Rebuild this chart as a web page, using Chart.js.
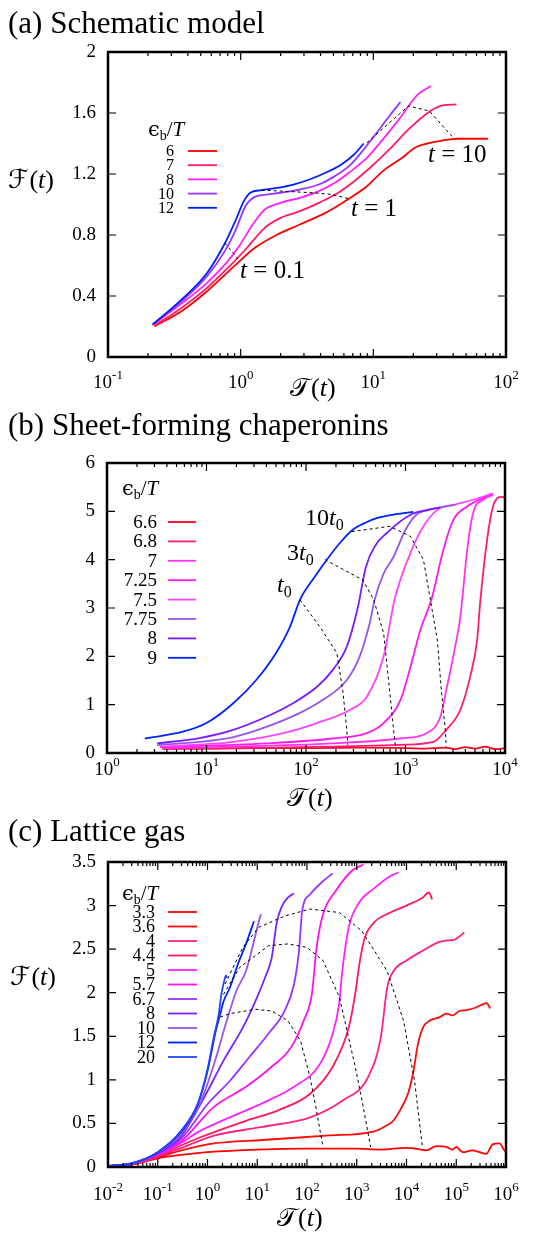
<!DOCTYPE html>
<html>
<head>
<meta charset="utf-8">
<script src="https://cdn.jsdelivr.net/npm/chart.js@4.4.0/dist/chart.umd.min.js"></script>
<style>
body { margin: 0; background: #fff; }
#wrap { position: relative; width: 548px; height: 1233px; }
canvas { position: absolute; left: 0; }
</style>
</head>
<body>
<div id="wrap">
<canvas id="chartA" width="548" height="405" style="top:0px"></canvas>
<canvas id="chartB" width="548" height="410" style="top:405px"></canvas>
<canvas id="chartC" width="548" height="418" style="top:815px"></canvas>
</div>
<script>
// ---- (a) Schematic model ----
const schemLabels = ['6', '7', '8', '10', '12'];
const schemColors = ['#ff0000', '#ff1a66', '#ff22ff', '#9933ff', '#0022ff'];
const schemYTicks = [0, 0.4, 0.8, 1.2, 1.6, 2];
const schemYTickLabels = ['0', '0.4', '0.8', '1.2', '1.6', '2'];
const schem6 = [[0.224,0.201],[0.358,0.30],[0.558,0.431],[0.92,0.606],[1.28,0.716],[1.89,0.803],[2.79,0.869],[4.35,0.945],[6.41,1.033],[8.95,1.12],[11.8,1.219],[16.5,1.306],[20.6,1.372],[27.2,1.405],[37.8,1.427],[42.3,1.431],[73,1.431]];
const schem7 = [[0.224,0.206],[0.358,0.322],[0.558,0.453],[0.824,0.595],[1.087,0.705],[1.52,0.847],[2.0,0.912],[2.79,0.956],[3.89,1.011],[5.43,1.077],[7.17,1.153],[9.46,1.241],[13.2,1.361],[18.4,1.492],[25.7,1.60],[32.1,1.646],[42.3,1.656]];
const schem8 = [[0.217,0.212],[0.358,0.35],[0.558,0.486],[0.78,0.617],[0.973,0.726],[1.21,0.858],[1.52,0.967],[2.0,1.011],[2.79,1.044],[3.89,1.088],[5.14,1.142],[6.78,1.219],[8.95,1.306],[11.8,1.427],[15.6,1.558],[21.7,1.722],[27.2,1.777]];
const schem10 = [[0.217,0.212],[0.358,0.365],[0.558,0.53],[0.759,0.694],[0.92,0.836],[1.086,0.989],[1.28,1.05],[1.6,1.066],[2.0,1.077],[2.79,1.098],[3.89,1.131],[5.14,1.186],[6.78,1.263],[8.47,1.361],[10.6,1.47],[13.2,1.58],[16.0,1.672]];
const schem12 = [[0.217,0.212],[0.358,0.376],[0.558,0.551],[0.759,0.744],[0.92,0.90],[1.057,1.022],[1.18,1.077],[1.435,1.094],[1.89,1.109],[2.5,1.131],[3.3,1.164],[4.36,1.208],[5.74,1.263],[7.16,1.328],[8.47,1.40]];
const schemT01 = [[0.76,0.748],[0.97,0.635]];
const schemT1 = [[1.44,1.094],[2.0,1.088],[3.49,1.077],[4.86,1.066],[6.6,1.037]];
const schemT10 = [[8.95,1.405],[18.4,1.646],[26.4,1.613],[40,1.438]];

// ---- (b) Sheet-forming chaperonins ----
const chapLabels = ['6.6', '6.8', '7', '7.25', '7.5', '7.75', '8', '9'];
const chapColors = ['#ff0022', '#ff1a75', '#ff33ee', '#ff1aee', '#ff44ff', '#9955ee', '#7a1aff', '#0022ff'];
const chapYTicks = [0, 1, 2, 3, 4, 5, 6];
const chapYTickLabels = ['0', '1', '2', '3', '4', '5', '6'];
const chap66 = [[4,0.09],[10,0.09],[31.6,0.1],[100,0.1],[316,0.11],[1000,0.1],[1585,0.09],[2512,0.11],[3162,0.08],[3981,0.12],[5012,0.09],[6310,0.13],[7943,0.08],[10000,0.1]];
const chap68 = [[3.6,0.08],[186,0.13],[891,0.17],[1905,0.23],[2570,0.48],[3548,0.89],[4467,1.58],[5248,2.34],[5623,3.1],[6607,4.41],[7586,5.1],[9333,5.3],[10000,5.28]];
const chap7 = [[3.6,0.1],[186,0.2],[891,0.3],[1622,0.41],[2239,0.75],[2570,1.3],[3020,2.0],[3548,2.8],[3715,3.17],[4169,4.2],[4786,4.97],[6026,5.24],[7586,5.34]];
const chap725 = [[3.4,0.12],[40,0.2],[186,0.3],[407,0.41],[603,0.62],[891,1.1],[1122,1.78],[1413,2.55],[1820,3.17],[2399,4.2],[3020,4.82],[4169,5.1],[7586,5.37]];
const chap75 = [[3.4,0.13],[18.6,0.23],[59,0.41],[129,0.62],[275,0.89],[407,1.16],[603,2.0],[776,3.17],[1122,4.14],[1514,4.69],[2089,5.03],[3162,5.14],[5012,5.25],[7586,5.37]];
const chap775 = [[3.2,0.165],[8.5,0.23],[18.6,0.33],[40,0.54],[87,0.83],[148,1.1],[257,1.51],[347,2.0],[437,2.69],[490,3.17],[600,3.7],[759,4.06],[1000,4.62],[1288,4.93],[1738,5.03],[3162,5.14]];
const chap8 = [[3.2,0.2],[8.5,0.31],[18.6,0.48],[40,0.75],[74,1.03],[129,1.37],[186,1.72],[257,2.2],[331,3.0],[400,3.85],[500,4.3],[646,4.55],[1122,4.93],[1585,5.02],[2240,5.08]];
const chap9 = [[2.4,0.30],[5.8,0.44],[10,0.62],[18.6,1.03],[31.6,1.51],[50,2.07],[69,2.61],[87,3.17],[120,3.62],[162,4.0],[220,4.35],[295,4.62],[400,4.77],[513,4.86],[800,4.94],[1200,4.99]];
const chapT0 = [[87,3.17],[138,2.61],[204,2.07],[234,1.3],[257,0.48],[263,0.17]];
const chap3T0 = [[155,4.0],[372,3.58],[479,3.17],[603,2.48],[692,1.3],[759,0.48],[794,0.13]];
const chap10T0 = [[288,4.58],[692,4.69],[1122,4.48],[1514,4.0],[1778,3.17],[2089,2.34],[2291,1.3],[2512,0.48],[2570,0.13]];

// ---- (c) Lattice gas ----
const lattLabels = ['3.3', '3.6', '4', '4.4', '5', '5.7', '6.7', '8', '10', '12', '20'];
const lattColors = ['#ff0000', '#ff0a0a', '#ff2288', '#ff1a5a', '#ff22ff', '#ff11ee', '#9933ff', '#7a22ff', '#9955ee', '#0022ff', '#2244ff'];
const lattYTicks = [0, 0.5, 1, 1.5, 2, 2.5, 3, 3.5];
const lattYTickLabels = ['0', '0.5', '1', '1.5', '2', '2.5', '3', '3.5'];
const latt33 = [[0.01,0.01],[0.0316,0.03],[0.1,0.1],[0.3,0.14],[1,0.17],[10,0.2],[100,0.21],[1000,0.21],[3000,0.2],[10000,0.22],[20000,0.2],[25000,0.19],[40000,0.24],[63000,0.23],[85000,0.2],[100000,0.23],[135000,0.17],[214000,0.19],[400000,0.15],[540000,0.26],[740000,0.27],[930000,0.19],[1000000,0.18]];
const latt36 = [[0.01,0.01],[0.0316,0.032],[0.1,0.11],[0.3,0.19],[1.35,0.27],[12.5,0.31],[244,0.36],[2265,0.41],[3530,0.46],[5400,0.53],[7400,0.65],[10700,0.84],[13500,1.07],[17000,1.41],[21400,1.6],[29500,1.68],[46800,1.72],[63000,1.76],[85000,1.74],[115000,1.79],[158000,1.8],[250000,1.83],[346000,1.87],[410000,1.88],[480000,1.82]];
const latt4 = [[0.01,0.01],[0.0316,0.034],[0.1,0.12],[0.3,0.22],[1.35,0.36],[12.5,0.46],[116,0.57],[513,0.76],[1683,1.03],[3050,1.49],[4100,2.06],[5520,2.25],[10000,2.37],[21000,2.48],[44200,2.58],[69000,2.6],[92900,2.61],[145000,2.69]];
const latt44 = [[0.01,0.01],[0.0316,0.036],[0.1,0.13],[0.3,0.25],[0.64,0.33],[5.94,0.53],[26.2,0.65],[116,0.84],[328,1.15],[690,1.6],[929,1.98],[1161,2.37],[1450,2.63],[2265,2.81],[4755,2.92],[10000,3.0],[21000,3.09],[28300,3.15],[32800,3.07]];
const latt5 = [[0.01,0.01],[0.0316,0.038],[0.1,0.14],[0.3,0.28],[0.64,0.4],[2.83,0.57],[12.5,0.73],[55,0.92],[181,1.18],[328,1.53],[442,1.87],[513,2.25],[690,2.75],[1076,3.02],[2265,3.2],[4755,3.34],[6900,3.38]];
const latt57 = [[0.01,0.01],[0.0316,0.039],[0.1,0.145],[0.3,0.3],[1.35,0.69],[5.94,0.92],[19.5,1.15],[47.5,1.37],[86,1.68],[125,1.98],[156,2.52],[210,2.9],[380,3.17],[800,3.4],[1346,3.47]];
const latt67 = [[0.01,0.01],[0.0316,0.04],[0.1,0.15],[0.3,0.33],[1.0,0.72],[2.83,0.99],[6.9,1.26],[16.8,1.53],[35.3,1.79],[55,2.1],[69,2.48],[80,2.94],[116,3.13],[210,3.28],[328,3.37]];
const latt8 = [[0.01,0.01],[0.0316,0.042],[0.1,0.16],[0.3,0.36],[0.86,0.8],[2.1,1.22],[5.13,1.6],[9.29,1.91],[14.5,2.18],[19.5,2.4],[24.4,2.79],[30.5,2.98],[41,3.09],[55,3.14]];
const latt10 = [[0.01,0.01],[0.0316,0.044],[0.1,0.165],[0.3,0.39],[0.743,0.76],[1.35,1.18],[2.44,1.68],[3.8,2.02],[5.94,2.25],[8.0,2.52],[10.8,2.82],[11.9,2.9]];
const latt12 = [[0.01,0.01],[0.0316,0.045],[0.1,0.17],[0.3,0.41],[0.64,0.72],[1.0,1.1],[1.45,1.55],[1.81,1.76],[2.1,1.9],[2.83,2.06],[4.1,2.33],[5.94,2.56],[8.6,2.82]];
const latt20 = [[0.01,0.01],[0.0316,0.046],[0.1,0.17],[0.3,0.42],[0.64,0.73],[1.0,1.12],[1.35,1.5],[1.68,1.75],[1.9,1.98],[2.2,2.15],[2.35,2.2],[2.45,2.17]];
const lattIso1 = [[1.81,1.72],[2.82,1.76],[9.3,1.81],[19.5,1.79],[41,1.68],[74,1.45],[115,1.03],[155,0.65],[209,0.23]];
const lattIso2 = [[2.1,1.98],[4.42,2.29],[17,2.54],[41,2.56],[100,2.52],[209,2.37],[447,1.95],[933,1.15],[1350,0.69],[1900,0.23]];
const lattIso3 = [[2.26,2.1],[5.13,2.52],[10.7,2.75],[35.5,2.88],[115,2.96],[447,2.92],[1260,2.71],[4070,2.25],[8710,1.68],[14500,0.99],[20900,0.23]];

const SERIF = '"Liberation Serif", "DejaVu Serif", serif';
const MATH = '"DejaVu Serif", "DejaVu Sans", serif';

function series(pts, color, dashed) {
    return {
        data: pts.map(p => ({x: p[0], y: p[1]})),
        borderColor: color,
        borderWidth: dashed ? 1 : 1.8,
        borderDash: dashed ? [3, 3] : [],
        pointRadius: 0,
        fill: false,
        cubicInterpolationMode: dashed ? 'default' : 'monotone',
        tension: 0
    };
}

// draw a row of text pieces (roman / italic / sub / sup) starting at x
function drawRuns(ctx, runs, x, y) {
    let cx = x;
    runs.forEach(r => {
        ctx.font = (r.italic ? 'italic ' : '') + r.size + 'px ' + (r.font || SERIF);
        ctx.fillText(r.t, cx, y + (r.dy || 0));
        cx += ctx.measureText(r.t).width + (r.gap || 0);
    });
    return cx;
}

function gnuFrame(cfg) {
    return {
        id: 'gnuframe',
        afterDraw(chart) {
            const ctx = chart.ctx, a = chart.chartArea;
            const xs = chart.scales.x, ys = chart.scales.y;
            ctx.save();
            ctx.fillStyle = '#000';
            ctx.strokeStyle = '#000';

            // inward tick marks on all four sides
            ctx.lineWidth = 1.2;
            ctx.beginPath();
            cfg.yTicks.forEach(v => {
                const py = ys.getPixelForValue(v);
                ctx.moveTo(a.left, py); ctx.lineTo(a.left + 8, py);
                ctx.moveTo(a.right, py); ctx.lineTo(a.right - 8, py);
            });
            for (let e = cfg.xExp[0]; e <= cfg.xExp[1]; e++) {
                const px = xs.getPixelForValue(Math.pow(10, e));
                ctx.moveTo(px, a.bottom); ctx.lineTo(px, a.bottom - 8);
                ctx.moveTo(px, a.top); ctx.lineTo(px, a.top + 8);
                if (e < cfg.xExp[1]) {
                    for (let m = 2; m < 10; m++) {
                        const q = xs.getPixelForValue(m * Math.pow(10, e));
                        ctx.moveTo(q, a.bottom); ctx.lineTo(q, a.bottom - 4);
                        ctx.moveTo(q, a.top); ctx.lineTo(q, a.top + 4);
                    }
                }
            }
            ctx.stroke();
            ctx.lineWidth = 2.5;
            ctx.strokeRect(a.left, a.top, a.right - a.left, a.bottom - a.top);

            // y tick labels
            ctx.font = '19px ' + SERIF;
            ctx.textAlign = 'right';
            ctx.textBaseline = 'middle';
            cfg.yTicks.forEach((v, i) => ctx.fillText(cfg.yTickLabels[i], a.left - 12, ys.getPixelForValue(v)));

            // x tick labels 10^n
            ctx.textAlign = 'left';
            ctx.textBaseline = 'alphabetic';
            for (let e = cfg.xExp[0]; e <= cfg.xExp[1]; e++) {
                const px = xs.getPixelForValue(Math.pow(10, e));
                ctx.font = '19px ' + SERIF;
                const w1 = ctx.measureText('10').width;
                ctx.font = '13px ' + SERIF;
                const w2 = ctx.measureText(String(e)).width;
                const x0 = px - (w1 + w2) / 2;
                const by = a.bottom + cfg.xLabelOffset;
                ctx.font = '19px ' + SERIF;
                ctx.fillText('10', x0, by);
                ctx.font = '13px ' + SERIF;
                ctx.fillText(String(e), x0 + w1, by - 9);
            }

            // panel title
            drawRuns(ctx, [{t: cfg.title, size: 31}], 8, cfg.titleY);

            // axis titles
            drawRuns(ctx, [{t: '\u{1D4AF}', size: 26, font: MATH, gap: 1}, {t: '(', size: 26}, {t: 't', size: 26, italic: true}, {t: ')', size: 26}], cfg.xTitle[0], cfg.xTitle[1]);
            if (cfg.yTitle) {
                drawRuns(ctx, [{t: '\u2131', size: 26, font: MATH, gap: 1}, {t: '(', size: 26}, {t: 't', size: 26, italic: true}, {t: ')', size: 26}], cfg.yTitle[0], cfg.yTitle[1]);
            }

            // key
            const k = cfg.key;
            drawRuns(ctx, [{t: '\u03F5', size: 21, font: MATH}, {t: 'b', size: 14, dy: 4}, {t: '/', size: 21}, {t: 'T', size: 21, italic: true}], k.head[0], k.head[1]);
            ctx.font = k.size + 'px ' + SERIF;
            ctx.textAlign = 'right';
            ctx.textBaseline = 'middle';
            k.labels.forEach((lab, i) => {
                const yy = k.y0 + i * k.dy;
                ctx.fillStyle = '#000';
                ctx.fillText(lab, k.numRight, yy + 1);
                ctx.strokeStyle = k.colors[i];
                ctx.lineWidth = 1.8;
                ctx.beginPath();
                ctx.moveTo(k.line[0], yy); ctx.lineTo(k.line[1], yy);
                ctx.stroke();
            });
            ctx.textAlign = 'left';
            ctx.textBaseline = 'alphabetic';
            ctx.fillStyle = '#000';

            // curve annotations, anchored in data space
            cfg.notes.forEach(n => {
                drawRuns(ctx, n.runs, xs.getPixelForValue(n.x), ys.getPixelForValue(n.y));
            });
            ctx.restore();
        }
    };
}

function makeChart(id, xr, yr, pad, datasets, cfg) {
    return new Chart(document.getElementById(id), {
        type: 'line',
        data: { datasets: datasets },
        options: {
            responsive: false,
            animation: false,
            events: [],
            layout: { padding: pad },
            plugins: { legend: { display: false }, tooltip: { enabled: false } },
            scales: {
                x: { type: 'logarithmic', min: xr[0], max: xr[1], display: false },
                y: { type: 'linear', min: yr[0], max: yr[1], display: false }
            }
        },
        plugins: [gnuFrame(cfg)]
    });
}

const tRun = (size) => ({t: 't', size: size, italic: true});

// (a)
const schemCurves = [schem6, schem7, schem8, schem10, schem12];
makeChart('chartA', [0.1, 100], [0, 2], {left: 108, right: 42, top: 52, bottom: 48},
    [series(schemT01, '#000', true), series(schemT1, '#000', true), series(schemT10, '#000', true)]
        .concat(schemCurves.map((c, i) => series(c, schemColors[i])).reverse()),
    {
        title: '(a) Schematic model', titleY: 33,
        yTicks: schemYTicks, yTickLabels: schemYTickLabels, xExp: [-1, 2], xLabelOffset: 31,
        xTitle: [290, 396], yTitle: [8, 188],
        key: {labels: schemLabels, colors: schemColors, head: [148, 136], y0: 151, dy: 14.2, numRight: 174, line: [188, 217], size: 16},
        notes: [
            {x: 0.99, y: 0.518, runs: [tRun(25), {t: ' = 0.1', size: 25}]},
            {x: 6.78, y: 0.925, runs: [tRun(25), {t: ' = 1', size: 25}]},
            {x: 25.8, y: 1.28, runs: [tRun(25), {t: ' = 10', size: 25}]}
        ]
    });

// (b)
const chapCurves = [chap66, chap68, chap7, chap725, chap75, chap775, chap8, chap9];
makeChart('chartB', [1, 10000], [0, 6], {left: 107, right: 43, top: 58, bottom: 62},
    [series(chapT0, '#000', true), series(chap3T0, '#000', true), series(chap10T0, '#000', true)]
        .concat(chapCurves.map((c, i) => series(c, chapColors[i])).reverse()),
    {
        title: '(b) Sheet-forming chaperonins', titleY: 30,
        yTicks: chapYTicks, yTickLabels: chapYTickLabels, xExp: [0, 4], xLabelOffset: 22,
        xTitle: [287, 401], yTitle: null,
        key: {labels: chapLabels, colors: chapColors, head: [122, 90], y0: 117, dy: 19.4, numRight: 157, line: [168, 196], size: 19},
        notes: [
            {x: 97.7, y: 4.72, runs: [{t: '10', size: 24}, tRun(24), {t: '0', size: 16, dy: 5}]},
            {x: 64.6, y: 4.0, runs: [{t: '3', size: 24}, tRun(24), {t: '0', size: 16, dy: 5}]},
            {x: 51.2, y: 3.33, runs: [tRun(24), {t: '0', size: 16, dy: 5}]}
        ]
    });

// (c)
const lattCurves = [latt33, latt36, latt4, latt44, latt5, latt57, latt67, latt8, latt10, latt12, latt20];
makeChart('chartC', [0.01, 1e6], [0, 3.5], {left: 108, right: 42, top: 47, bottom: 66},
    [series(lattIso1, '#000', true), series(lattIso2, '#000', true), series(lattIso3, '#000', true)]
        .concat(lattCurves.map((c, i) => series(c, lattColors[i])).reverse()),
    {
        title: '(c) Lattice gas', titleY: 26,
        yTicks: lattYTicks, yTickLabels: lattYTickLabels, xExp: [-2, 6], xLabelOffset: 33,
        xTitle: [277, 411], yTitle: [10, 170],
        key: {labels: lattLabels, colors: lattColors, head: [122, 85], y0: 97, dy: 14.5, numRight: 155, line: [168, 197], size: 18},
        notes: []
    });
</script>
</body>
</html>
